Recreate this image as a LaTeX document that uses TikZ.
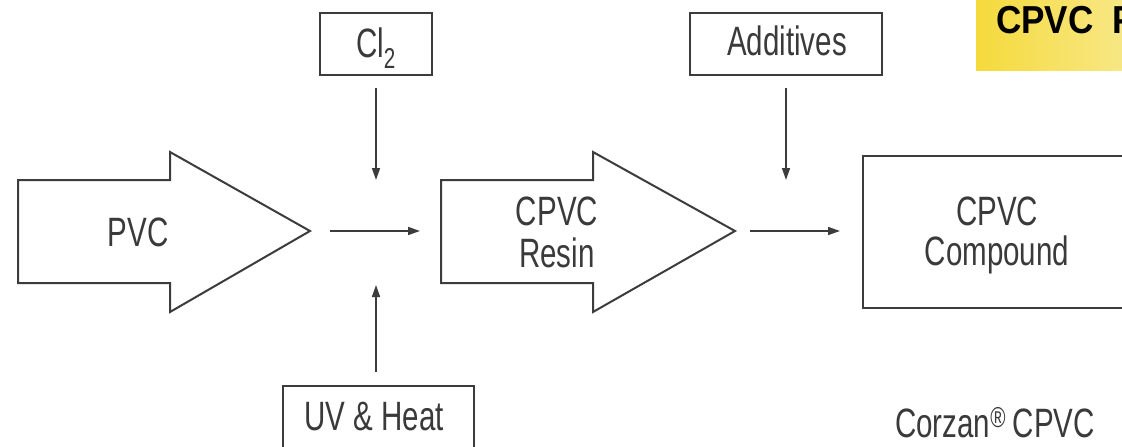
\documentclass[tikz,border=0pt]{standalone}
\usepackage{fontspec}
\setmainfont{Liberation Sans}[FakeStretch=0.72]
\newfontfamily\titlefont{Liberation Sans}[FakeStretch=0.9]
\usetikzlibrary{arrows.meta}
\definecolor{lg}{HTML}{3C3C3C}
\definecolor{tx}{HTML}{3A3A3A}
\definecolor{yl}{HTML}{F5DA3C}
\definecolor{yr}{HTML}{F8EA92}
\tikzset{
  outline/.style={draw=lg,line width=2pt,line join=miter},
  boxnode/.style={outline,inner sep=0pt,anchor=north west},
  lbl/.style={text=tx,inner sep=0pt,anchor=base,font=\fontsize{41}{42}\selectfont},
  conn/.style={draw=lg,line width=1.6pt,-{Triangle[length=12pt,width=8pt]}},
}
\begin{document}
\begin{tikzpicture}[x=1pt,y=-1pt]
\useasboundingbox (0,0) rectangle (1122,447);
\clip (0,0) rectangle (1122,447);
\fill[white] (0,0) rectangle (1122,447);

% title banner
\shade[left color=yl,right color=yr] (976,-5) rectangle (1150,70);
\node[inner sep=0pt,anchor=base west,font=\titlefont\bfseries\fontsize{39}{40}\selectfont] (title) at (996,33) {CPVC\hspace{19pt}P};

% input boxes
\node[boxnode,minimum width=112pt,minimum height=62pt] (clbox) at (319,12) {};
\node[lbl] (cltxt) at (376,57) {Cl\textsubscript{2}};
\node[boxnode,minimum width=192pt,minimum height=62pt] (addbox) at (689,12) {};
\node[lbl] (addtxt) at (787,55) {Additives};
\node[boxnode,minimum width=191pt,minimum height=80pt] (uvbox) at (282,385) {};
\node[lbl] (uvtxt) at (374,430) {UV \& Heat};

% big arrows
\draw[outline] (18,180) -- (170,180) -- (170,152) -- (310,231) -- (170,312) -- (170,283) -- (18,283) -- cycle;
\node[lbl] (pvc) at (138,246) {PVC};
\draw[outline] (441,180) -- (593,180) -- (593,152) -- (735,231) -- (593,312) -- (593,283) -- (441,283) -- cycle;
\node[lbl] (resin1) at (557,225) {CPVC};
\node[lbl] (resin2) at (557,267) {Resin};

% compound box
\node[boxnode,minimum width=290pt,minimum height=152pt] (cbox) at (862,155) {};
\node[lbl] (comp1) at (997,225) {CPVC};
\node[lbl] (comp2) at (997,265) {Compound};

% footer
\node[lbl] (corzan) at (995,437) {Corzan\textsuperscript{®}\,CPVC};

% connector end points
\coordinate (clA) at (376,88);
\coordinate (clB) at (376,180);
\coordinate (uvA) at (376,372);
\coordinate (uvB) at (376,285);
\coordinate (h1A) at (330,231);
\coordinate (h1B) at (420,231);
\coordinate (adA) at (786,88);
\coordinate (adB) at (786,180);
\coordinate (h2A) at (750,231);
\coordinate (h2B) at (840,231);

\draw[conn] (clA) -- (clB);
\draw[conn] (uvA) -- (uvB);
\draw[conn] (h1A) -- (h1B);
\draw[conn] (adA) -- (adB);
\draw[conn] (h2A) -- (h2B);
\end{tikzpicture}
\end{document}
